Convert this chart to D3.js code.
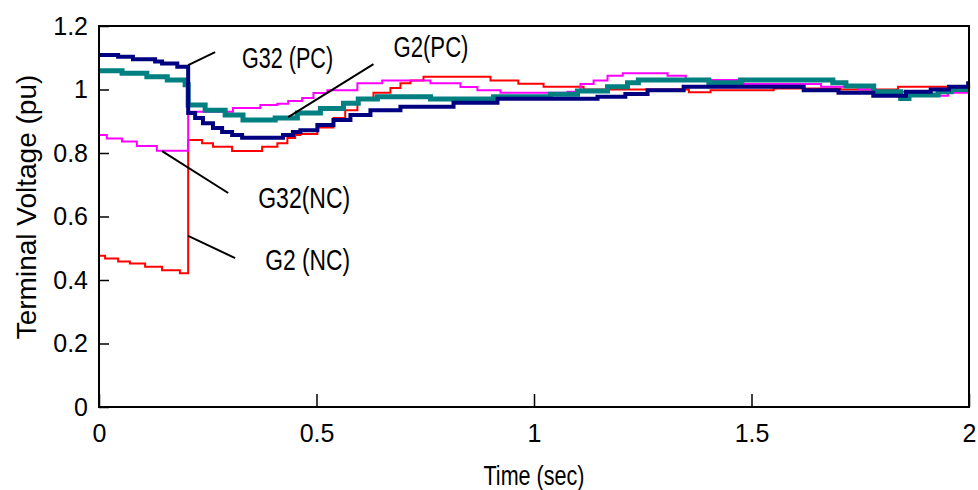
<!DOCTYPE html>
<html>
<head>
<meta charset="utf-8">
<script src="https://cdn.jsdelivr.net/npm/d3@7"></script>
<style>
    body { margin: 0; background: #fff; }
    svg { display: block; font-family: "Liberation Sans", Arial, sans-serif; }
</style>
</head>
<body>
<div id="chart"></div>
<script>
(function () {
    'use strict';

    // time axis (sec) and terminal voltage (pu)
    var tG32PC = [0, 0.044, 0.078, 0.129, 0.145, 0.18, 0.205, 0.221, 0.239, 0.262, 0.283, 0.306, 0.329, 0.423, 0.446, 0.463,
        0.502, 0.539, 0.578, 0.624, 0.693, 0.815, 0.916, 1.146, 1.21, 1.261, 1.344, 1.62, 1.70, 1.78, 1.855, 1.912, 1.954, 1.998, 2];
    var vG32PC = [1.109, 1.103, 1.095, 1.088, 1.082, 1.072, 0.926, 0.91, 0.894, 0.879, 0.866, 0.857, 0.848, 0.857, 0.866, 0.872,
        0.888, 0.904, 0.92, 0.935, 0.946, 0.958, 0.971, 0.977, 0.986, 0.998, 1.009, 0.998, 0.99, 0.98, 0.993, 1.0, 1.009, 1.02, 1.02];

    var tG2PC = [0, 0.053, 0.11, 0.157, 0.198, 0.205, 0.244, 0.29, 0.331, 0.405, 0.456, 0.509, 0.562, 0.596, 0.64, 0.762, 0.907,
        1.038, 1.1, 1.169, 1.215, 1.24, 1.402, 1.475, 1.687, 1.717, 1.781, 1.843, 1.862, 1.929, 1.959, 2];
    var vG2PC = [1.059, 1.051, 1.04, 1.03, 1.015, 0.951, 0.935, 0.92, 0.904, 0.91, 0.926, 0.94, 0.957, 0.97, 0.977, 0.97, 0.977,
        0.985, 0.995, 1.009, 1.021, 1.03, 1.021, 1.03, 1.021, 1.011, 0.993, 0.972, 0.983, 0.993, 1.0, 1.0];

    var tG32NC = [0, 0.018, 0.053, 0.087, 0.133, 0.205, 0.308, 0.371, 0.41, 0.435, 0.467, 0.493, 0.525, 0.594, 0.651, 0.762,
        0.831, 0.87, 0.923, 1.077, 1.107, 1.137, 1.169, 1.204, 1.307, 1.349, 1.482, 1.66, 1.745, 1.786, 1.855, 1.901, 1.952, 2];
    var vG32NC = [0.857, 0.846, 0.836, 0.822, 0.807, 0.93, 0.942, 0.951, 0.955, 0.964, 0.973, 0.989, 0.998, 1.02, 1.028, 1.02,
        1.008, 0.998, 0.99, 0.993, 1.017, 1.028, 1.043, 1.051, 1.043, 1.03, 1.017, 1.009, 1.0, 0.993, 0.983, 0.98, 0.99, 0.995];

    var tG2NC = [0, 0.014, 0.044, 0.071, 0.106, 0.145, 0.186, 0.205, 0.237, 0.262, 0.306, 0.375, 0.41, 0.433, 0.451, 0.463,
        0.502, 0.539, 0.566, 0.594, 0.631, 0.67, 0.693, 0.716, 0.746, 0.9, 0.964, 1.022, 1.114, 1.356, 1.406, 1.551, 1.705, 1.837, 2];
    var vG2NC = [0.476, 0.468, 0.458, 0.452, 0.442, 0.431, 0.421, 0.841, 0.831, 0.82, 0.806, 0.82, 0.831, 0.847, 0.857, 0.86,
        0.88, 0.91, 0.935, 0.967, 0.99, 1.005, 1.02, 1.028, 1.04, 1.028, 1.018, 1.009, 1.0, 0.991, 0.998, 1.003, 1.0, 1.009, 1.009];

    var xTicks = [0, 0.5, 1, 1.5, 2];
    var yTicks = [0, 0.2, 0.4, 0.6, 0.8, 1, 1.2];

    // label text, leader start [t, v], leader end [t, v], text anchor [t, v], text width
    var labelNames = ['G32 (PC)', 'G2(PC)', 'G32(NC)', 'G2 (NC)'];
    var leaderFrom = [[0.205, 1.077], [0.435, 0.913], [0.145, 0.806], [0.205, 0.539]];
    var leaderTo = [[0.267, 1.118], [0.631, 1.08], [0.297, 0.674], [0.313, 0.469]];
    var labelAt = [[0.329, 1.069], [0.677, 1.102], [0.366, 0.627], [0.382, 0.431]];
    var labelWidth = [91, 75, 92, 85];

    var width = 978, height = 490;
    var left = 99, right = 969, top = 26, bottom = 407;

    var svg = d3.select('#chart').append('svg')
        .attr('width', width)
        .attr('height', height);

    var x = d3.scaleLinear().domain([0, 2]).range([left, right]);
    var y = d3.scaleLinear().domain([0, 1.2]).range([bottom, top]);

    var fmt = d3.format('~g');

    // axes, ticks point inward
    var xAxis = svg.append('g')
        .attr('transform', 'translate(0,' + bottom + ')')
        .call(d3.axisBottom(x).tickValues(xTicks).tickFormat(fmt)
            .tickSizeInner(-13).tickSizeOuter(0).tickPadding(17));
    var yAxis = svg.append('g')
        .attr('transform', 'translate(' + left + ',0)')
        .call(d3.axisLeft(y).tickValues(yTicks).tickFormat(fmt)
            .tickSizeInner(-10).tickSizeOuter(0).tickPadding(11));

    [xAxis, yAxis].forEach(function (ax) {
        ax.select('.domain').remove();
        ax.selectAll('line').attr('stroke', '#000').attr('stroke-width', 1.5);
        ax.selectAll('text')
            .attr('fill', '#000')
            .style('font-size', '25px')
            .style('font-family', '"Liberation Sans", Arial, sans-serif');
    });

    // series, drawn as staircases
    var line = d3.line()
        .x(function (d) { return x(d[0]); })
        .y(function (d) { return y(d[1]); })
        .curve(d3.curveStepAfter);

    var series = [
        { t: tG2NC, v: vG2NC, color: '#ff0000', w: 2 },
        { t: tG32NC, v: vG32NC, color: '#ff00ff', w: 2 },
        { t: tG2PC, v: vG2PC, color: '#008080', w: 5 },
        { t: tG32PC, v: vG32PC, color: '#000080', w: 4 }
    ];

    svg.append('g').selectAll('path')
        .data(series).enter()
        .append('path')
        .attr('d', function (s) { return line(d3.zip(s.t, s.v)); })
        .attr('fill', 'none')
        .attr('stroke', function (s) { return s.color; })
        .attr('stroke-width', function (s) { return s.w; })
        .attr('stroke-linejoin', 'miter');

    // frame
    svg.append('rect')
        .attr('x', left)
        .attr('y', top)
        .attr('width', right - left)
        .attr('height', bottom - top)
        .attr('fill', 'none')
        .attr('stroke', '#000')
        .attr('stroke-width', 2);

    // leader lines and labels
    var ann = svg.append('g');
    ann.selectAll('line')
        .data(labelNames).enter()
        .append('line')
        .attr('x1', function (d, i) { return x(leaderFrom[i][0]); })
        .attr('y1', function (d, i) { return y(leaderFrom[i][1]); })
        .attr('x2', function (d, i) { return x(leaderTo[i][0]); })
        .attr('y2', function (d, i) { return y(leaderTo[i][1]); })
        .attr('stroke', '#000')
        .attr('stroke-width', 2);
    ann.selectAll('text')
        .data(labelNames).enter()
        .append('text')
        .attr('x', function (d, i) { return x(labelAt[i][0]); })
        .attr('y', function (d, i) { return y(labelAt[i][1]); })
        .attr('textLength', function (d, i) { return labelWidth[i]; })
        .attr('lengthAdjust', 'spacingAndGlyphs')
        .style('font-size', '29px')
        .text(function (d) { return d; });

    // axis titles
    svg.append('text')
        .attr('x', (left + right) / 2)
        .attr('y', 485)
        .attr('text-anchor', 'middle')
        .attr('textLength', 101)
        .attr('lengthAdjust', 'spacingAndGlyphs')
        .style('font-size', '28px')
        .text('Time (sec)');

    svg.append('text')
        .attr('transform', 'translate(36,207) rotate(-90)')
        .attr('text-anchor', 'middle')
        .style('font-size', '28px')
        .text('Terminal Voltage (pu)');
})();
</script>
</body>
</html>
